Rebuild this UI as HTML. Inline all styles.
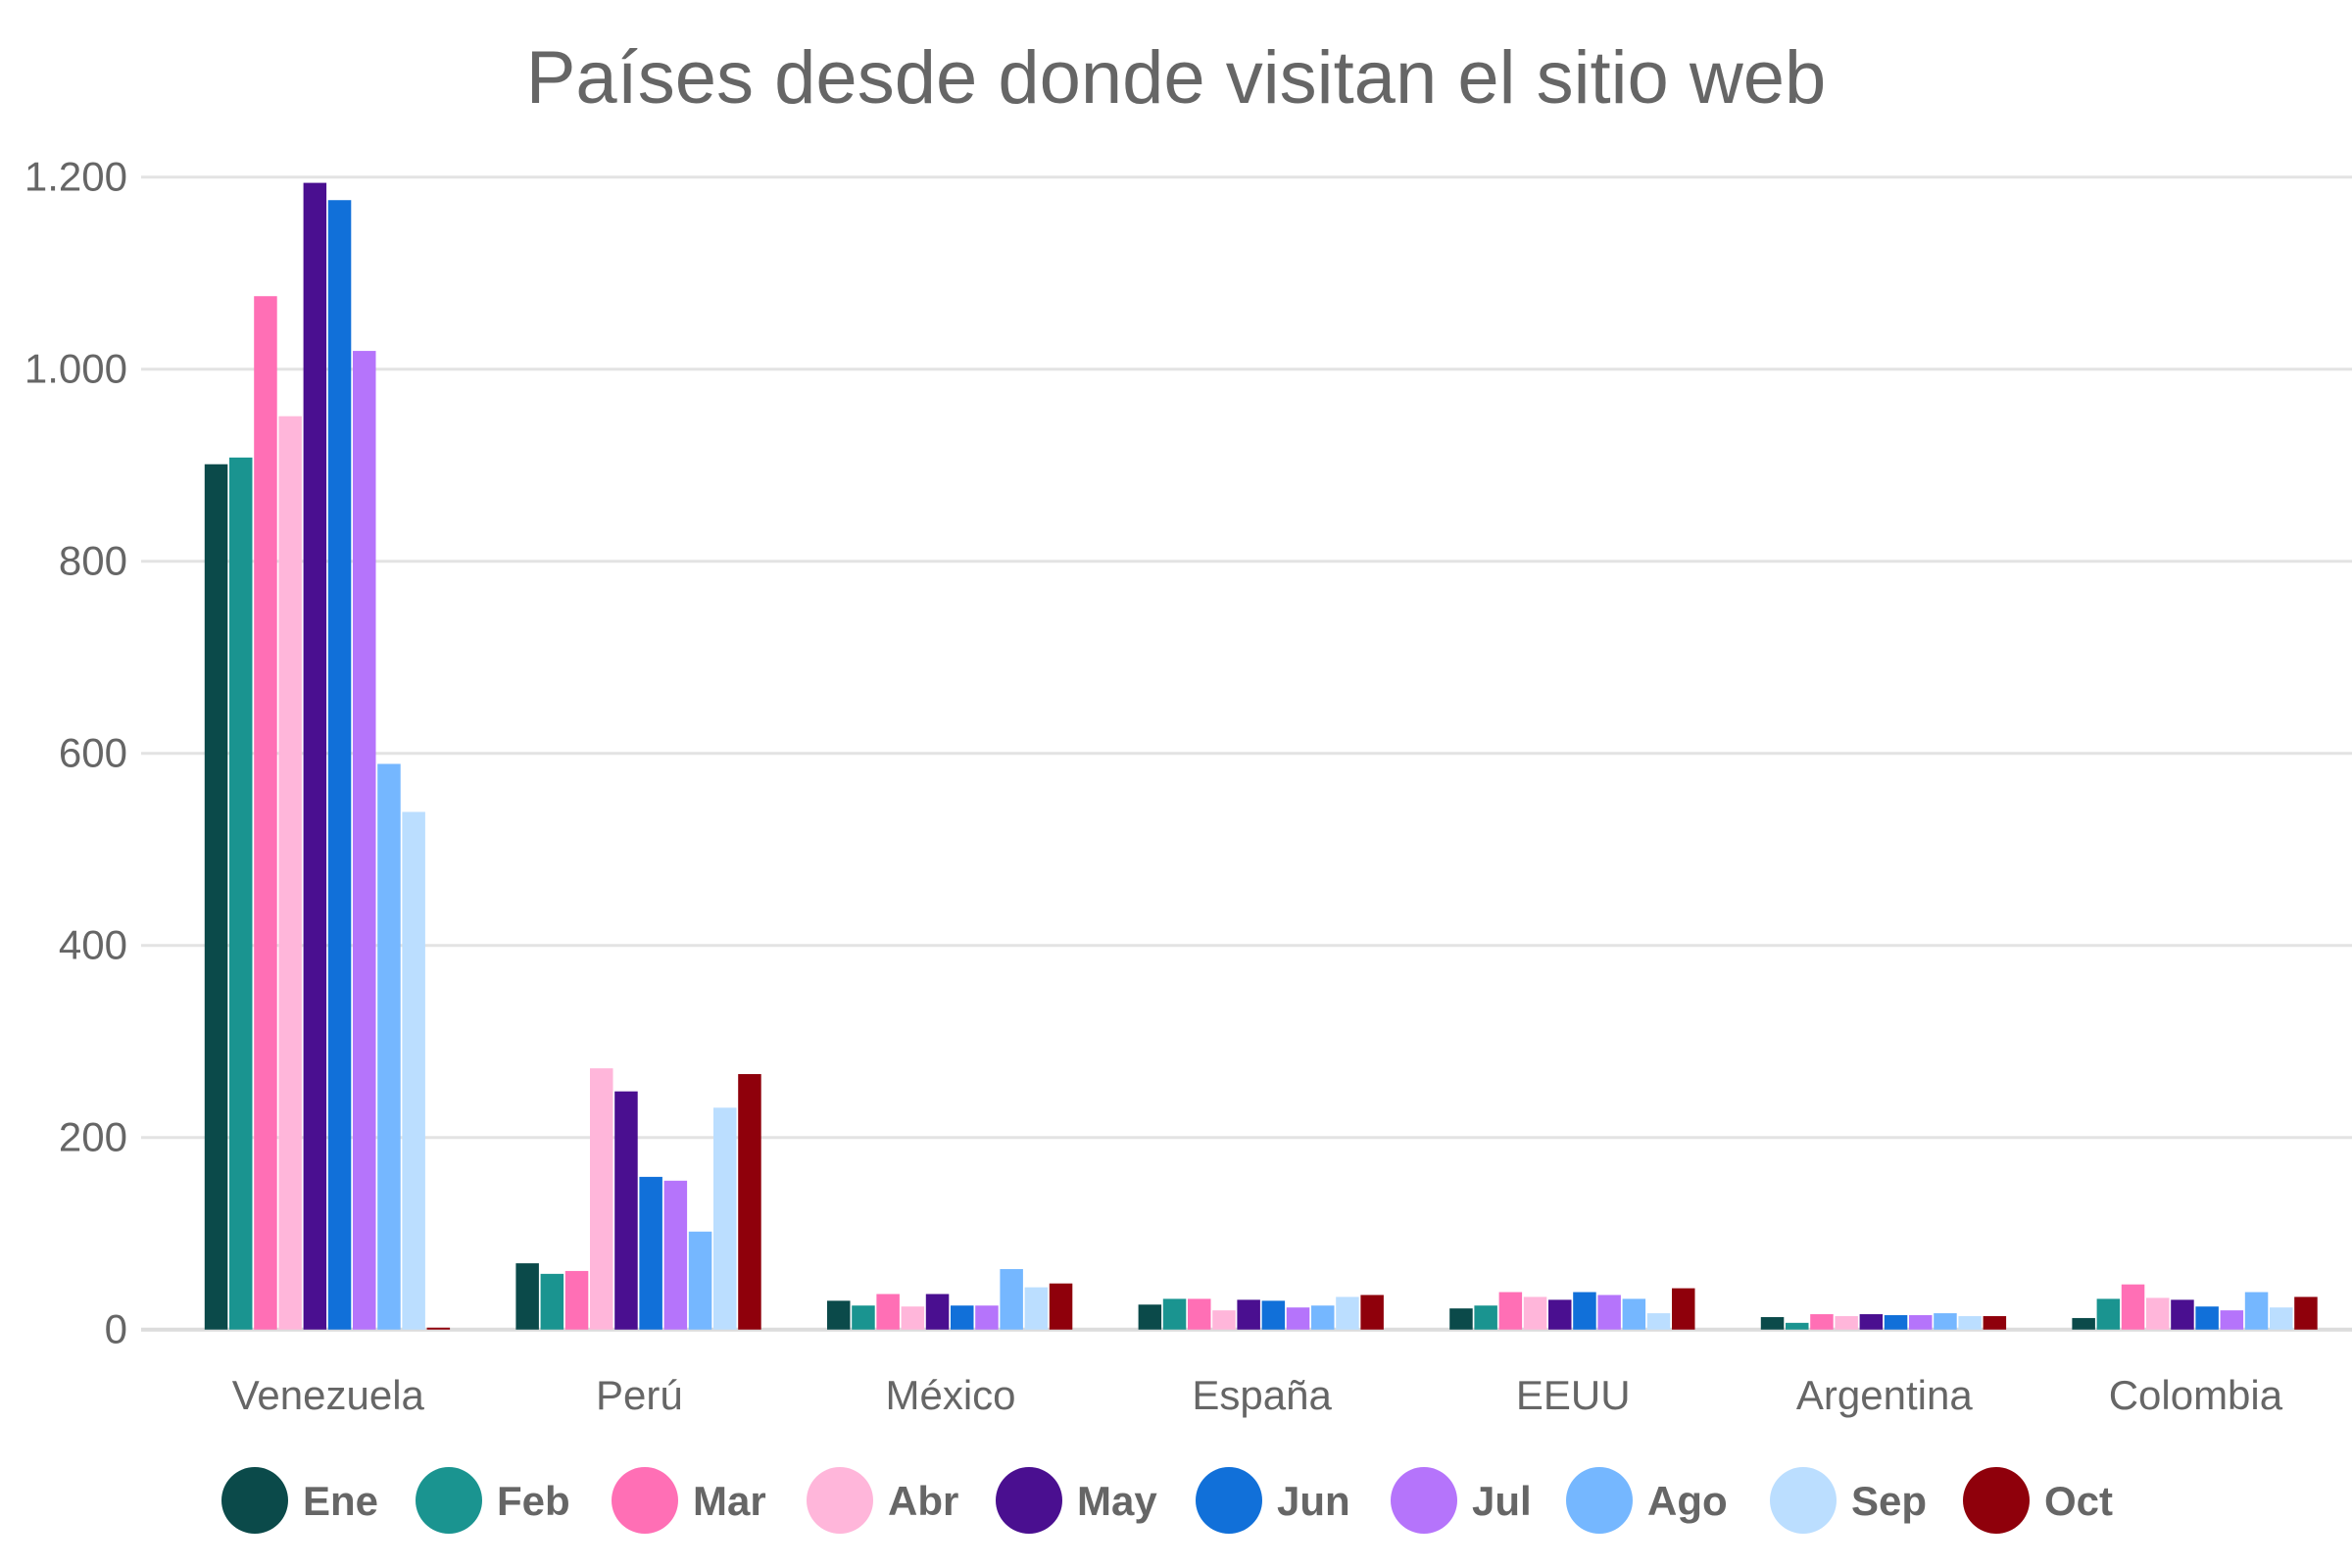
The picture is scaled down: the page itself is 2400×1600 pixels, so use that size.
<!DOCTYPE html>
<html><head><meta charset="utf-8"><style>
html,body{margin:0;padding:0;background:#fff;}
svg{display:block;font-family:"Liberation Sans",sans-serif;}
</style></head><body>
<svg id="chart" width="2400" height="1600" viewBox="0 0 2400 1600">
<text x="1200" y="105" text-anchor="middle" font-size="76" fill="#666">Países desde donde visitan el sitio web</text>
<g id="grid"></g><g id="bars"></g><g id="xlabels"></g><g id="legend"></g>
</svg>
<script>
const categories=["Venezuela","Perú","México","España","EEUU","Argentina","Colombia"];
const months=["Ene","Feb","Mar","Abr","May","Jun","Jul","Ago","Sep","Oct"];
const colors=["#0b4a4a","#1a9490","#ff6fb5","#ffb6da","#4a0f90","#1170d9","#b574fb","#75b7ff","#bbdeff","#8f000b"];
const sEne=[901,69,30,26,22,13,12];
const sFeb=[908,58,25,32,25,7,32];
const sMar=[1076,61,37,32,39,16,47];
const sAbr=[951,272,24,20,34,14,33];
const sMay=[1194,248,37,31,31,16,31];
const sJun=[1176,159,25,30,39,15,24];
const sJul=[1019,155,25,23,36,15,20];
const sAgo=[589,102,63,25,32,17,39];
const sSep=[539,231,44,34,17,14,23];
const sOct=[2,266,48,36,43,14,34];
const series=[sEne,sFeb,sMar,sAbr,sMay,sJun,sJul,sAgo,sSep,sOct];
const yTicks=[0,200,400,600,800,1000,1200];
const yTickLabels=["0","200","400","600","800","1.000","1.200"];
const legendX=[260,458,658,857,1050,1254,1453,1632,1840,2037];

const NS="http://www.w3.org/2000/svg";
const y0=1356.7, pxPer=0.98;
const yScale=v=>y0-v*pxPer;
const bandStart=176, bandW=317.6, barStep=25.2, barW=23.5;
const xBand=i=>bandStart+i*bandW;
function mk(tag,attrs,parent){const e=document.createElementNS(NS,tag);for(const k in attrs)e.setAttribute(k,attrs[k]);parent.appendChild(e);return e;}
const grid=document.getElementById('grid');
yTicks.forEach((t,i)=>{
  const l=mk('line',{x1:144,x2:2400,y1:yScale(t),y2:yScale(t),stroke:t===0?'#dcdcdc':'#e3e3e3','stroke-width':t===0?4:3},grid);
  
  
  const tx=mk('text',{x:130,y:yScale(t)+14,'text-anchor':'end','font-size':42,fill:'#666'},grid);
  tx.textContent=yTickLabels[i];
  
  
});
const bars=document.getElementById('bars');
const groupW=barStep*months.length;
categories.forEach((c,ci)=>{
  const gx=xBand(ci)+(bandW-groupW)/2;
  series.forEach((s,si)=>{
    const v=s[ci];
    const r=mk('rect',{x:gx+si*barStep,y:yScale(v),width:barW,height:Math.max(0,y0-yScale(v)),fill:colors[si]},bars);
    
    
  });
  const t=mk('text',{x:xBand(ci)+bandW/2,y:1438,'text-anchor':'middle','font-size':42,fill:'#666'},document.getElementById('xlabels'));
  t.textContent=c;
  
  
});
const leg=document.getElementById('legend');
months.forEach((m,i)=>{
  const g=mk('g',{},leg);
  
  
  mk('circle',{cx:legendX[i],cy:1531,r:34,fill:colors[i]},g);
  const t=mk('text',{x:legendX[i]+49,y:1546,'font-size':42,'font-weight':'bold',fill:'#666'},g);
  t.textContent=m;
});
</script>
</body></html>
